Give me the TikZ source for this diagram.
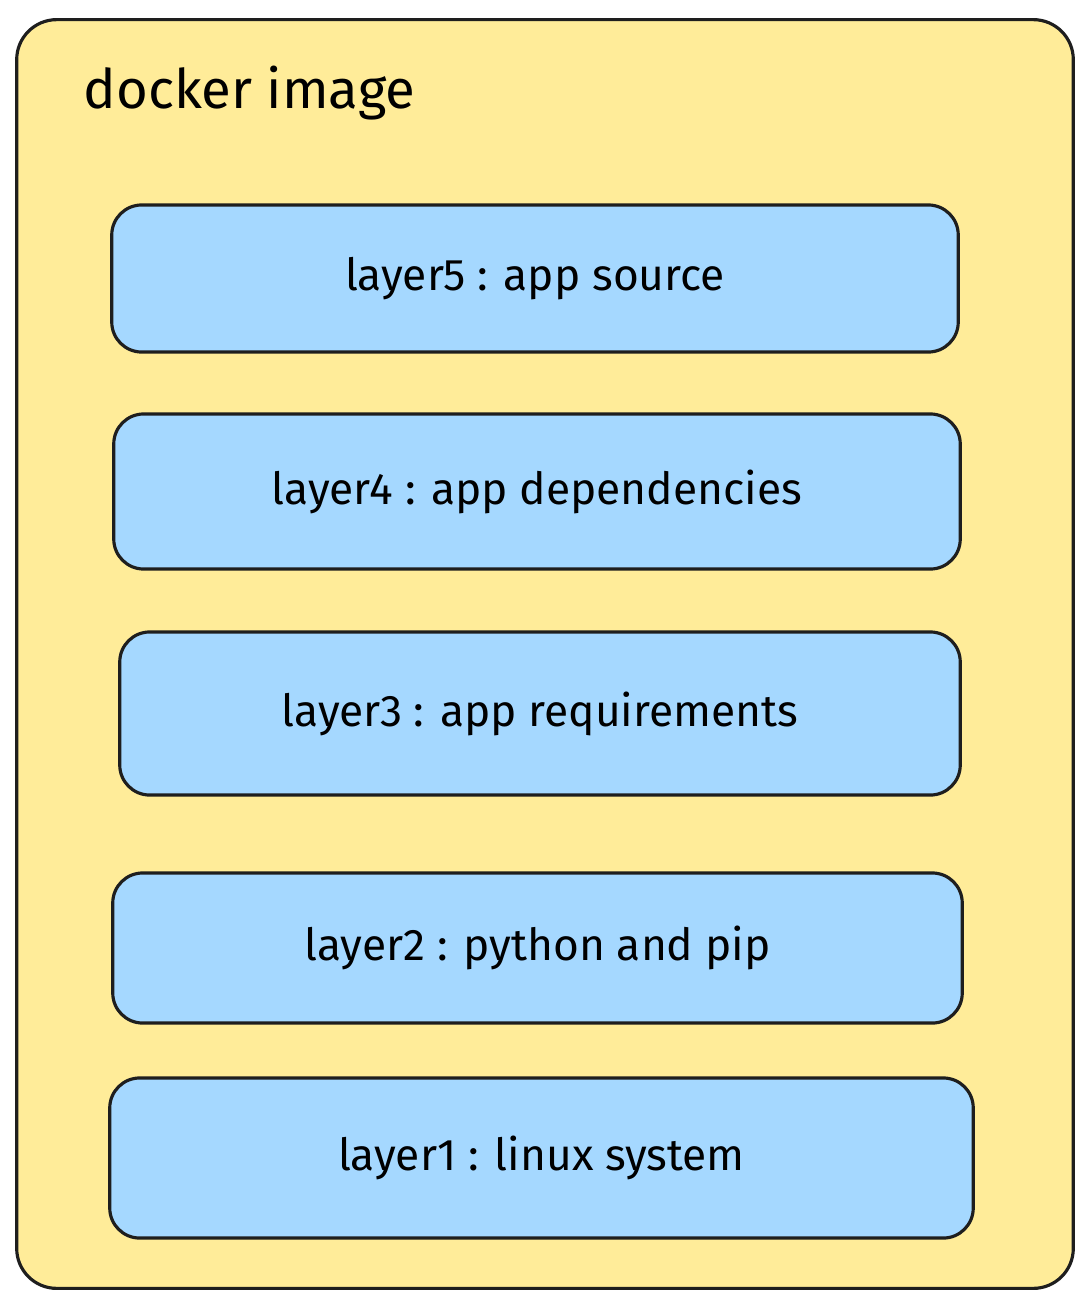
\documentclass[tikz,border=0pt]{standalone}
\usepackage{fontspec}
\setmainfont{Fira Sans}
\usetikzlibrary{shapes,arrows}
\definecolor{imgyellow}{HTML}{FFEC99}
\definecolor{layerblue}{HTML}{A5D8FF}
\definecolor{inkline}{HTML}{1E1E1E}
\tikzstyle{image} = [rectangle, draw=inkline, fill=imgyellow, line width=0.9pt,
    rounded corners=0.4cm, minimum width=10.56cm, minimum height=12.68cm]
\tikzstyle{layer} = [rectangle, draw=inkline, fill=layerblue, line width=0.9pt,
    rounded corners=0.3cm, text centered, font=\fontsize{12.6}{15}\selectfont]
\tikzstyle{title} = [anchor=base west, inner sep=0pt, font=\fontsize{15.5}{19}\selectfont]

\begin{document}
\begin{tikzpicture}[x=0.01cm, y=-0.01cm]
    \useasboundingbox (0,0) rectangle (1088,1306);
    % Place nodes

    \node [image] (dockerimage) at (545,654) {};
    \node [title] (imagetitle) at (83,108) {docker image};

    \node [layer, minimum width=8.46cm, minimum height=1.47cm] (layerfive) at (535,278.5) {layer5 : app source};
    \node [layer, minimum width=8.46cm, minimum height=1.55cm] (layerfour) at (537,491.5) {layer4 : app dependencies};
    \node [layer, minimum width=8.40cm, minimum height=1.63cm] (layerthree) at (540,713.5) {layer3 : app requirements};
    \node [layer, minimum width=8.49cm, minimum height=1.50cm] (layertwo) at (537.5,948) {layer2 : python and pip};
    \node [layer, minimum width=8.63cm, minimum height=1.60cm] (layerone) at (541.5,1158) {layer1 : linux system};
\end{tikzpicture}
\end{document}
